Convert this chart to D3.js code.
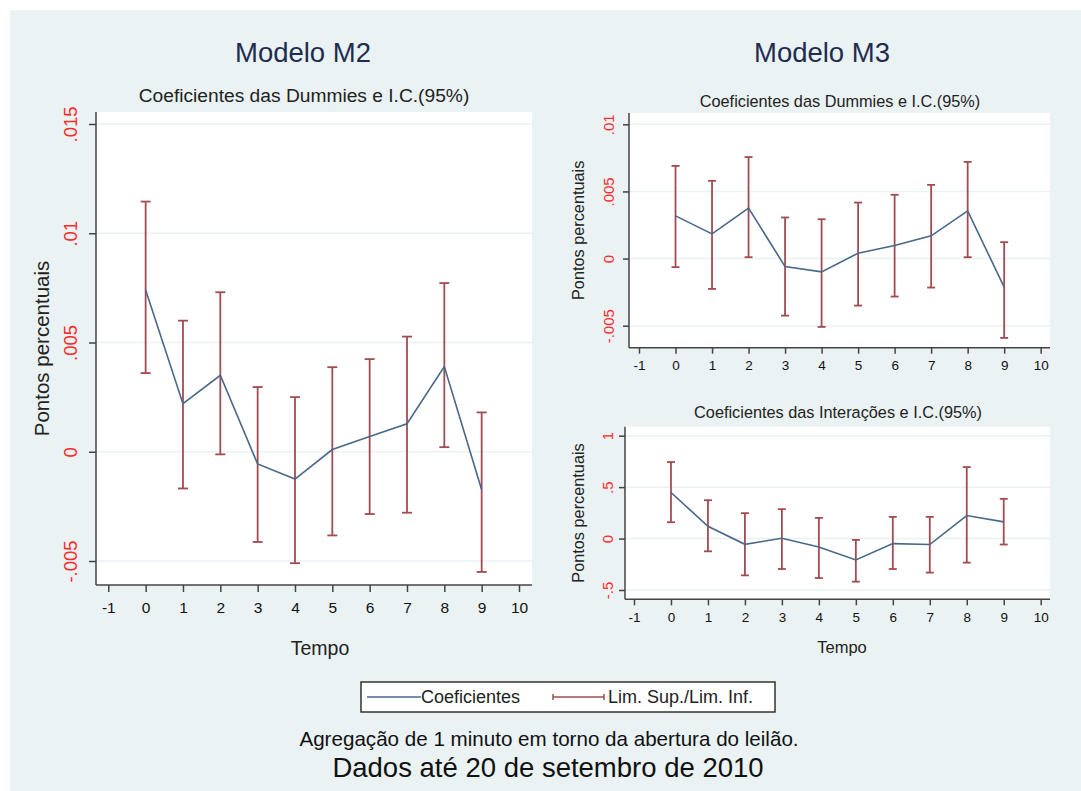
<!DOCTYPE html>
<html>
<head>
<meta charset="utf-8">
<script src="https://cdn.jsdelivr.net/npm/d3@7"></script>
<style>
  body { margin: 0; background: #fff; }
  svg { display: block; font-family: "Liberation Sans", Arial, sans-serif; }
</style>
</head>
<body>
<div id="chart"></div>
<script>
// Tempo (minutes around the auction opening)
const tempo = [0, 1, 2, 3, 4, 5, 6, 7, 8, 9];
const xTicks = [-1, 0, 1, 2, 3, 4, 5, 6, 7, 8, 9, 10];

// Modelo M2 - dummies
const m2Coef  = [0.0074, 0.0022, 0.0035, -0.00056, -0.00125, 0.0001, 0.0007, 0.00128, 0.0039, -0.00174];
const m2Upper = [0.01145, 0.0060, 0.0073, 0.00296, 0.0025, 0.00387, 0.00424, 0.00527, 0.00772, 0.0018];
const m2Lower = [0.0036, -0.00168, -0.00012, -0.00413, -0.0051, -0.00383, -0.00285, -0.00279, 0.00021, -0.0055];
const m2YTicks = [-0.005, 0, 0.005, 0.01, 0.015];

// Modelo M3 - dummies
const m3dCoef  = [0.00318, 0.00184, 0.00376, -0.0006, -0.00099, 0.0004, 0.00097, 0.00169, 0.00355, -0.00213];
const m3dUpper = [0.0069, 0.00579, 0.00756, 0.00306, 0.00293, 0.00417, 0.00475, 0.00549, 0.0072, 0.00122];
const m3dLower = [-0.00064, -0.00226, 0.0001, -0.00425, -0.00509, -0.0035, -0.00283, -0.00216, 0.0001, -0.00591];
const m3dYTicks = [-0.005, 0, 0.005, 0.01];

// Modelo M3 - interações
const m3iCoef  = [0.448, 0.12, -0.056, 0.003, -0.082, -0.208, -0.049, -0.058, 0.224, 0.162];
const m3iUpper = [0.744, 0.373, 0.247, 0.286, 0.201, -0.013, 0.211, 0.211, 0.695, 0.386];
const m3iLower = [0.159, -0.124, -0.358, -0.296, -0.384, -0.419, -0.296, -0.331, -0.234, -0.058];
const m3iYTicks = [-0.5, 0, 0.5, 1];

const W = 1081, H = 791;
const BG = '#eaf2f3';
const LINE = '#48688a';
const CI = '#a24c52';
const AXIS = '#444';

const svg = d3.select('#chart').append('svg')
    .attr('width', W).attr('height', H);

svg.append('rect').attr('x', 10).attr('y', 10)
    .attr('width', W - 10).attr('height', H - 10).attr('fill', BG);

// stata style labels: .005, -.005
const stataFmt = v => String(+v.toFixed(6)).replace(/^(-?)0\./, '$1.');

function panel(o) {
    const x = d3.scaleLinear().domain([-1, 10]).range(o.xr);
    const y = d3.scaleLinear().domain(o.yd).range(o.yr);
    const g = svg.append('g');

    // plot region
    g.append('rect')
        .attr('x', o.box[0]).attr('y', o.box[1])
        .attr('width', o.box[2] - o.box[0]).attr('height', o.box[3] - o.box[1])
        .attr('fill', '#fff');

    // grid
    g.selectAll('.grid').data(o.yTicks).join('line')
        .attr('x1', o.box[0]).attr('x2', o.box[2])
        .attr('y1', d => y(d)).attr('y2', d => y(d))
        .attr('stroke', BG).attr('stroke-width', 1.5);

    // y axis
    const ya = g.append('g').attr('transform', `translate(${o.box[0]},0)`)
        .call(d3.axisLeft(y).tickValues(o.yTicks).tickFormat(stataFmt)
            .tickSize(o.tick).tickSizeOuter(0));
    ya.select('.domain').remove();
    ya.selectAll('line').attr('stroke', AXIS).attr('stroke-width', 1.5);
    ya.selectAll('text')
        .attr('transform', 'rotate(-90)')
        .attr('x', 0).attr('y', -o.yLabOff).attr('dy', 0)
        .attr('text-anchor', 'middle')
        .attr('fill', '#ff2a2a')
        .style('font-size', o.yTickFont + 'px');

    // x axis
    const xa = g.append('g').attr('transform', `translate(0,${o.box[3]})`)
        .call(d3.axisBottom(x).tickValues(xTicks).tickFormat(d => String(d))
            .tickSize(o.tick).tickSizeOuter(0));
    xa.select('.domain').remove();
    xa.selectAll('line').attr('stroke', AXIS).attr('stroke-width', 1.5);
    xa.selectAll('text')
        .attr('y', o.xLabOff).attr('dy', 0)
        .attr('fill', '#111')
        .style('font-size', o.xTickFont + 'px');

    // axis lines
    g.append('line').attr('x1', o.box[0]).attr('x2', o.box[0])
        .attr('y1', o.box[1]).attr('y2', o.box[3])
        .attr('stroke', AXIS).attr('stroke-width', 1.5);
    g.append('line').attr('x1', o.box[0]).attr('x2', o.box[2])
        .attr('y1', o.box[3]).attr('y2', o.box[3])
        .attr('stroke', AXIS).attr('stroke-width', 1.5);

    // confidence intervals
    const ci = g.append('g').attr('stroke', CI).attr('stroke-width', 1.8);
    tempo.forEach((t, i) => {
        const cx = x(t);
        ci.append('line').attr('x1', cx).attr('x2', cx)
            .attr('y1', y(o.upper[i])).attr('y2', y(o.lower[i]));
        [o.upper[i], o.lower[i]].forEach(v => {
            ci.append('line').attr('x1', cx - o.cap / 2).attr('x2', cx + o.cap / 2)
                .attr('y1', y(v)).attr('y2', y(v));
        });
    });

    // coefficients
    g.append('path')
        .datum(tempo.map((t, i) => [t, o.coef[i]]))
        .attr('fill', 'none').attr('stroke', LINE).attr('stroke-width', 1.6)
        .attr('d', d3.line().x(d => x(d[0])).y(d => y(d[1])));

    // titles
    g.append('text').attr('x', o.subX).attr('y', o.subY)
        .attr('text-anchor', 'middle').attr('fill', '#222')
        .style('font-size', o.subFont + 'px').text(o.sub);

    g.append('text')
        .attr('transform', `translate(${o.yTitleX},${(o.box[1] + o.box[3]) / 2}) rotate(-90)`)
        .attr('text-anchor', 'middle').attr('fill', '#222')
        .style('font-size', o.yTitleFont + 'px').text('Pontos percentuais');

    if (o.xTitle) {
        g.append('text').attr('x', o.xTitleX).attr('y', o.xTitleY)
            .attr('text-anchor', 'middle').attr('fill', '#222')
            .style('font-size', o.xTitleFont + 'px').text('Tempo');
    }
}

panel({
    xr: [108.3, 519], yd: [-0.005, 0.015], yr: [561, 124],
    box: [96, 112, 532, 585], yTicks: m2YTicks,
    coef: m2Coef, upper: m2Upper, lower: m2Lower,
    tick: 7, cap: 10, yLabOff: 19, yTickFont: 18.5, xLabOff: 28, xTickFont: 15.5,
    sub: 'Coeficientes das Dummies e I.C.(95%)', subX: 304, subY: 102, subFont: 19.2,
    yTitleX: 49, yTitleFont: 20.5,
    xTitle: true, xTitleX: 320, xTitleY: 655, xTitleFont: 19.5
});

panel({
    xr: [639, 1040.7], yd: [-0.005, 0.01], yr: [325.7, 124.3],
    box: [629, 113, 1050, 347.7], yTicks: m3dYTicks,
    coef: m3dCoef, upper: m3dUpper, lower: m3dLower,
    tick: 6, cap: 8, yLabOff: 15.5, yTickFont: 15, xLabOff: 22, xTickFont: 13.5,
    sub: 'Coeficientes das Dummies e I.C.(95%)', subX: 840, subY: 107, subFont: 16.3,
    yTitleX: 584, yTitleFont: 16.3,
    xTitle: false
});

panel({
    xr: [634, 1040.7], yd: [-0.5, 1], yr: [590, 435.7],
    box: [625, 426.7, 1050, 599.3], yTicks: m3iYTicks,
    coef: m3iCoef, upper: m3iUpper, lower: m3iLower,
    tick: 6, cap: 8, yLabOff: 12.5, yTickFont: 15, xLabOff: 23, xTickFont: 13.5,
    sub: 'Coeficientes das Interações e I.C.(95%)', subX: 838, subY: 418, subFont: 16.3,
    yTitleX: 584, yTitleFont: 16.3,
    xTitle: true, xTitleX: 842, xTitleY: 653, xTitleFont: 16.5
});

// main titles
svg.append('text').attr('x', 303).attr('y', 62).attr('text-anchor', 'middle')
    .attr('fill', '#1e2d4f').style('font-size', '27.5px').text('Modelo M2');
svg.append('text').attr('x', 822).attr('y', 62).attr('text-anchor', 'middle')
    .attr('fill', '#1e2d4f').style('font-size', '27.5px').text('Modelo M3');

// legend
const lg = svg.append('g');
lg.append('rect').attr('x', 361).attr('y', 682).attr('width', 414).attr('height', 30)
    .attr('fill', '#fff').attr('stroke', '#333').attr('stroke-width', 1.5);
lg.append('line').attr('x1', 367).attr('x2', 421).attr('y1', 697).attr('y2', 697)
    .attr('stroke', LINE).attr('stroke-width', 1.6);
lg.append('text').attr('x', 421).attr('y', 703).attr('fill', '#222')
    .style('font-size', '18px').text('Coeficientes');
const lc = lg.append('g').attr('stroke', CI).attr('stroke-width', 1.5);
lc.append('line').attr('x1', 553).attr('x2', 604).attr('y1', 697).attr('y2', 697);
lc.append('line').attr('x1', 553).attr('x2', 553).attr('y1', 694).attr('y2', 700);
lc.append('line').attr('x1', 604).attr('x2', 604).attr('y1', 694).attr('y2', 700);
lg.append('text').attr('x', 608).attr('y', 703).attr('fill', '#222')
    .style('font-size', '18px').text('Lim. Sup./Lim. Inf.');

// notes
svg.append('text').attr('x', 549).attr('y', 746).attr('text-anchor', 'middle')
    .attr('fill', '#111').style('font-size', '20.6px')
    .text('Agregação de 1 minuto em torno da abertura do leilão.');
svg.append('text').attr('x', 548).attr('y', 777).attr('text-anchor', 'middle')
    .attr('fill', '#111').style('font-size', '27.5px')
    .text('Dados até 20 de setembro de 2010');
</script>
</body>
</html>
